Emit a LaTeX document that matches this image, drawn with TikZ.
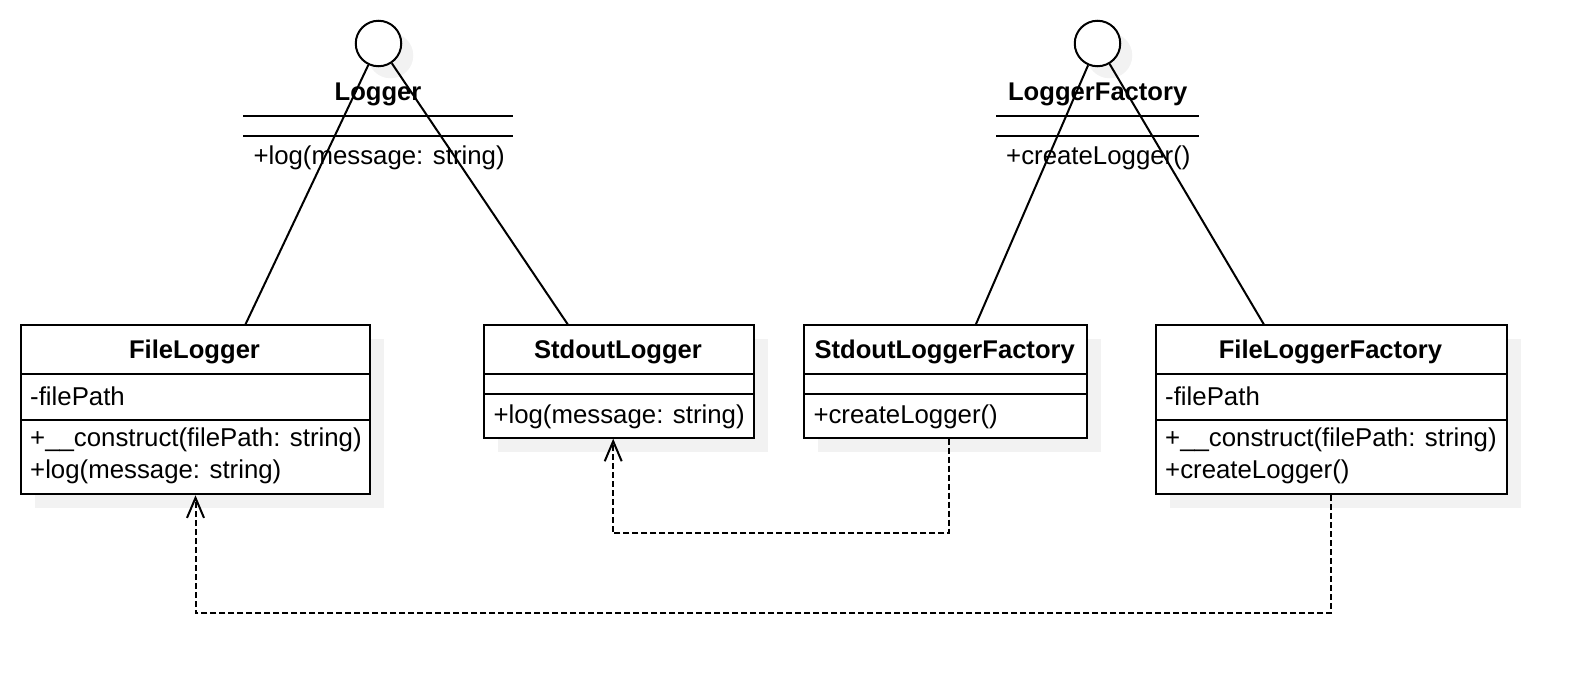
\documentclass[tikz,border=0pt]{standalone}
\usepackage{fontspec}
\setmainfont{Liberation Sans}
\usetikzlibrary{arrows.meta,calc,shadows}
\definecolor{shadowgray}{RGB}{242,242,242}
\begin{document}
\begin{tikzpicture}[x=1pt,y=-1pt,
  lw/.style={line width=2pt},
  sh/.style={drop shadow={shadow xshift=14pt,shadow yshift=-14pt,fill=shadowgray,opacity=1}},
  classbox/.style={draw, line width=2pt, fill=white, anchor=north west, inner sep=0pt, rectangle, sh},
  ctitle/.style={font=\fontsize{25.6}{30}\selectfont\bfseries, anchor=base, inner sep=0pt},
  member/.style={font=\fontsize{25.8}{30}\selectfont, anchor=base west, inner sep=0pt},
  iface/.style={circle, draw, line width=2pt, fill=white, minimum size=45.5pt, inner sep=0pt,
    drop shadow={shadow xshift=12pt,shadow yshift=-12pt,fill=shadowgray,opacity=1}},
  dep/.style={line width=2pt, dash pattern=on 6pt off 3pt,
    -{Straight Barb[length=20pt,width=17pt,line width=2pt]}}
]
\useasboundingbox (0,0) rectangle (1584,694);

% ---------- Logger interface ----------
\node[iface] (lgc) at (378.5,43.5) {};
\node[ctitle] (lgt) at (378,100) {Logger};
\draw[lw] (243.3,116) -- (512.7,116);
\draw[lw] (243.3,135.7) -- (512.7,135.7);
\node[member] (lgm) at (253.3,164) {+log(message: string)};

% ---------- LoggerFactory interface ----------
\node[iface] (lfc) at (1097.5,43.5) {};
\node[ctitle] (lft) at (1097.7,100) {LoggerFactory};
\draw[lw] (996,116) -- (1199.3,116);
\draw[lw] (996,135.7) -- (1199.3,135.7);
\node[member] (lfm) at (1006,164.5) {+createLogger()};

% ---------- FileLogger ----------
\node[classbox, minimum width=349pt, minimum height=169pt] (fl) at (20,324.3) {};
\draw[lw] (20,374.3) -- (369,374.3);
\draw[lw] (20,420.3) -- (369,420.3);
\node[ctitle] (flt) at (194.5,358.5) {FileLogger};
\node[member] (fla) at (30,405) {-filePath};
\node[member] (flm1) at (30,446) {+\_\_construct(filePath: string)};
\node[member] (flm2) at (30,478) {+log(message: string)};

% ---------- StdoutLogger ----------
\node[classbox, minimum width=269.4pt, minimum height=112.4pt] (sl) at (483.3,324.3) {};
\draw[lw] (483.3,374.3) -- (752.7,374.3);
\draw[lw] (483.3,394) -- (752.7,394);
\node[ctitle] (slt) at (618,358.5) {StdoutLogger};
\node[member] (slm) at (493.3,423) {+log(message: string)};

% ---------- StdoutLoggerFactory ----------
\node[classbox, minimum width=282.7pt, minimum height=112.4pt] (slf) at (803.3,324.3) {};
\draw[lw] (803.3,374.3) -- (1086,374.3);
\draw[lw] (803.3,394) -- (1086,394);
\node[ctitle] (slft) at (944.7,358.5) {StdoutLoggerFactory};
\node[member] (slfm) at (813.3,423) {+createLogger()};

% ---------- FileLoggerFactory ----------
\node[classbox, minimum width=350.7pt, minimum height=169pt] (flf) at (1155,324.3) {};
\draw[lw] (1155,374.3) -- (1505.7,374.3);
\draw[lw] (1155,420.3) -- (1505.7,420.3);
\node[ctitle] (flft) at (1330.4,358.5) {FileLoggerFactory};
\node[member] (flfa) at (1165,405) {-filePath};
\node[member] (flfm1) at (1165,446) {+\_\_construct(filePath: string)};
\node[member] (flfm2) at (1165,478) {+createLogger()};

% ---------- realization lines ----------
\coordinate (flTop) at ($(fl.north west)+(225.5,0)$);
\coordinate (slTop) at ($(sl.north west)+(84.4,0)$);
\coordinate (slfTop) at ($(slf.north west)+(172.6,0)$);
\coordinate (flfTop) at ($(flf.north west)+(108.8,0)$);
\draw[lw] (lgc) -- (flTop);
\draw[lw] (lgc) -- (slTop);
\draw[lw] (lfc) -- (slfTop);
\draw[lw] (lfc) -- (flfTop);

% ---------- dependencies ----------
\draw[dep] ([xshift=3pt]slf.south) -- ++(0,94.7) -| ([xshift=-5.8pt]sl.south);
\draw[dep] (flf.south) -- ++(0,118) -| (fl.south);
\end{tikzpicture}
\end{document}
